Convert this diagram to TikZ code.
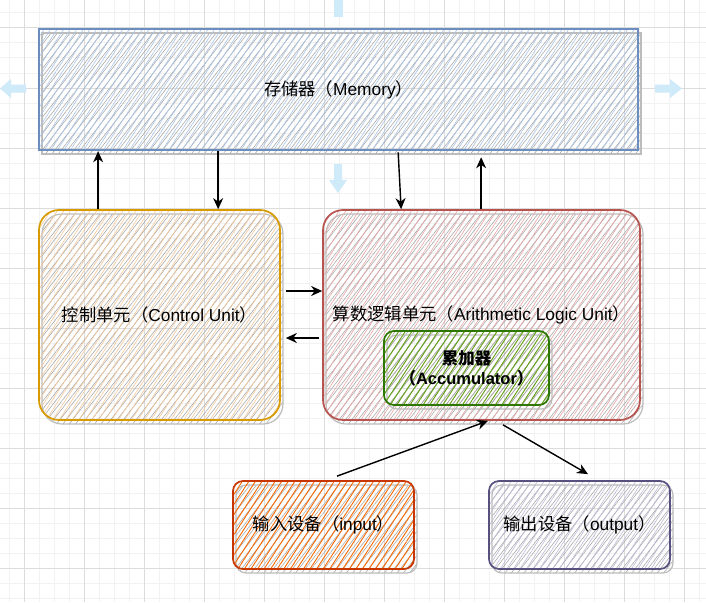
\documentclass[tikz,border=0pt]{standalone}
\usepackage{fontspec}
\setmainfont{Liberation Sans}
\newfontfamily\cjkfont{Noto Sans CJK SC}
\usetikzlibrary{arrows.meta,patterns.meta,shadows,calc}
\newcommand\zhtxt[1]{{\cjkfont #1}}
\definecolor{gridmin}{HTML}{F2F2F2}
\definecolor{gridmaj}{HTML}{DCDCDC}
\definecolor{hoverblue}{HTML}{CFEAF8}
\definecolor{shgray}{HTML}{ABABAB}
\definecolor{memS}{HTML}{6C8EBF}\definecolor{memF}{HTML}{A9C4E8}
\definecolor{cuS}{HTML}{D79B00}\definecolor{cuF}{HTML}{F6C898}
\definecolor{aluS}{HTML}{B85450}\definecolor{aluF}{HTML}{E9A5A3}
\definecolor{accS}{HTML}{2D7600}\definecolor{accF}{HTML}{60A917}
\definecolor{inS}{HTML}{C73500}\definecolor{inF}{HTML}{FA6800}
\definecolor{outS}{HTML}{56517E}\definecolor{outF}{HTML}{BEBAD9}
\tikzset{
  box/.style n args={3}{draw=#1, line width=1.7pt,
    pattern={Lines[angle=57,distance=5.5pt,line width=#3]}, pattern color=#2,
    drop shadow={shadow xshift=3pt, shadow yshift=-4pt, opacity=1, fill=none,
      draw=shgray!80, line width=1.2pt,
      pattern={Lines[angle=52,distance=5pt,line width=0.6pt]}, pattern color=shgray},
    font=\fontsize{17.3}{20}\selectfont, text=black, align=center, inner sep=0pt},
  arr/.style={line width=1.4pt, -{Stealth[length=11pt,width=10pt,inset=3.5pt]}},
  hover/.style={fill=hoverblue, draw=none}
}
\begin{document}
\begin{tikzpicture}[x=1pt,y=-1pt]
\useasboundingbox (0,0) rectangle (706,602);
\fill[white] (0,0) rectangle (706,602);
% grid
\foreach \x in {9,24,...,705} \draw[gridmin, line width=1pt] (\x,0) -- (\x,602);
\foreach \y in {13,28,...,601} \draw[gridmin, line width=1pt] (0,\y) -- (706,\y);
\foreach \x in {24,84,...,705} \draw[gridmaj, line width=1pt] (\x,0) -- (\x,602);
\foreach \y in {28,88,...,601} \draw[gridmaj, line width=1pt] (0,\y) -- (706,\y);
% hover arrows
\fill[hover] (333.5,17) -- (333.5,-2) -- (342.5,-2) -- (342.5,17) -- cycle;
\fill[hover] (26,84.5) -- (11,84.5) -- (11,79) -- (0,88.5) -- (11,98) -- (11,92.5) -- (26,92.5) -- cycle;
\fill[hover] (655,84.5) -- (670,84.5) -- (670,79) -- (682,88.5) -- (670,98) -- (670,92.5) -- (655,92.5) -- cycle;
\fill[hover] (334,164) -- (334,180) -- (329,180) -- (338,193) -- (347,180) -- (342,180) -- (342,164) -- cycle;
% boxes
\node[box={memS}{memF}{0.6pt}, minimum width=599pt, minimum height=121pt] (mem) at (338.5,89.5)
  {\zhtxt{存储器（}Memory\zhtxt{）}};
\node[box={cuS}{cuF}{0.6pt}, rounded corners=20pt, minimum width=241pt, minimum height=210pt] (cu) at (159.5,315)
  {\zhtxt{控制单元（}Control Unit\zhtxt{）}};
\node[box={aluS}{aluF}{0.6pt}, rounded corners=20pt, minimum width=317pt, minimum height=210pt] (alu) at (481.5,315)
  {\zhtxt{算数逻辑单元（}Arithmetic Logic Unit\zhtxt{）}};
\node[box={accS}{accF}{0.9pt}, rounded corners=10pt, minimum width=165pt, minimum height=74pt, font=\bfseries\fontsize{16.5}{20}\selectfont] (acc) at (466.5,368)
  {\zhtxt{累加器}\\\zhtxt{（}Accumulator\zhtxt{）}};
\node[box={inS}{inF}{0.9pt}, rounded corners=10pt, minimum width=181pt, minimum height=88pt] (inp) at (323.5,525)
  {\zhtxt{输入设备（}input\zhtxt{）}};
\node[box={outS}{outF}{0.6pt}, rounded corners=10pt, minimum width=181pt, minimum height=88pt] (outp) at (579.5,525)
  {\zhtxt{输出设备（}output\zhtxt{）}};
% connectors
\draw[arr] ([xshift=60pt]cu.north west) -- ([xshift=60pt,yshift=-1pt]cu.north west |- mem.south);
\draw[arr] ([xshift=180pt,yshift=-1pt]cu.north west |- mem.south) -- ([xshift=180pt]cu.north west);
\draw[arr] ([xshift=76pt,yshift=-2pt]alu.north west |- mem.south) -- ([xshift=79pt]alu.north west);
\draw[arr] ([xshift=159pt]alu.north west) -- ([xshift=159pt,yshift=-7pt]alu.north west |- mem.south);
\draw[arr] ([xshift=5pt,yshift=24pt]cu.east) -- ([yshift=24pt]cu.east -| alu.west);
\draw[arr] ([xshift=-3pt,yshift=-23pt]alu.west) -- ([xshift=5pt,yshift=-23pt]alu.west -| cu.east);
\draw[arr] ([xshift=13.5pt,yshift=4pt]inp.north) -- ([xshift=6.5pt]alu.south);
\draw[arr] ([xshift=21.5pt,yshift=-4pt]alu.south) -- ([xshift=8.5pt,yshift=6pt]outp.north);
\end{tikzpicture}
\end{document}
